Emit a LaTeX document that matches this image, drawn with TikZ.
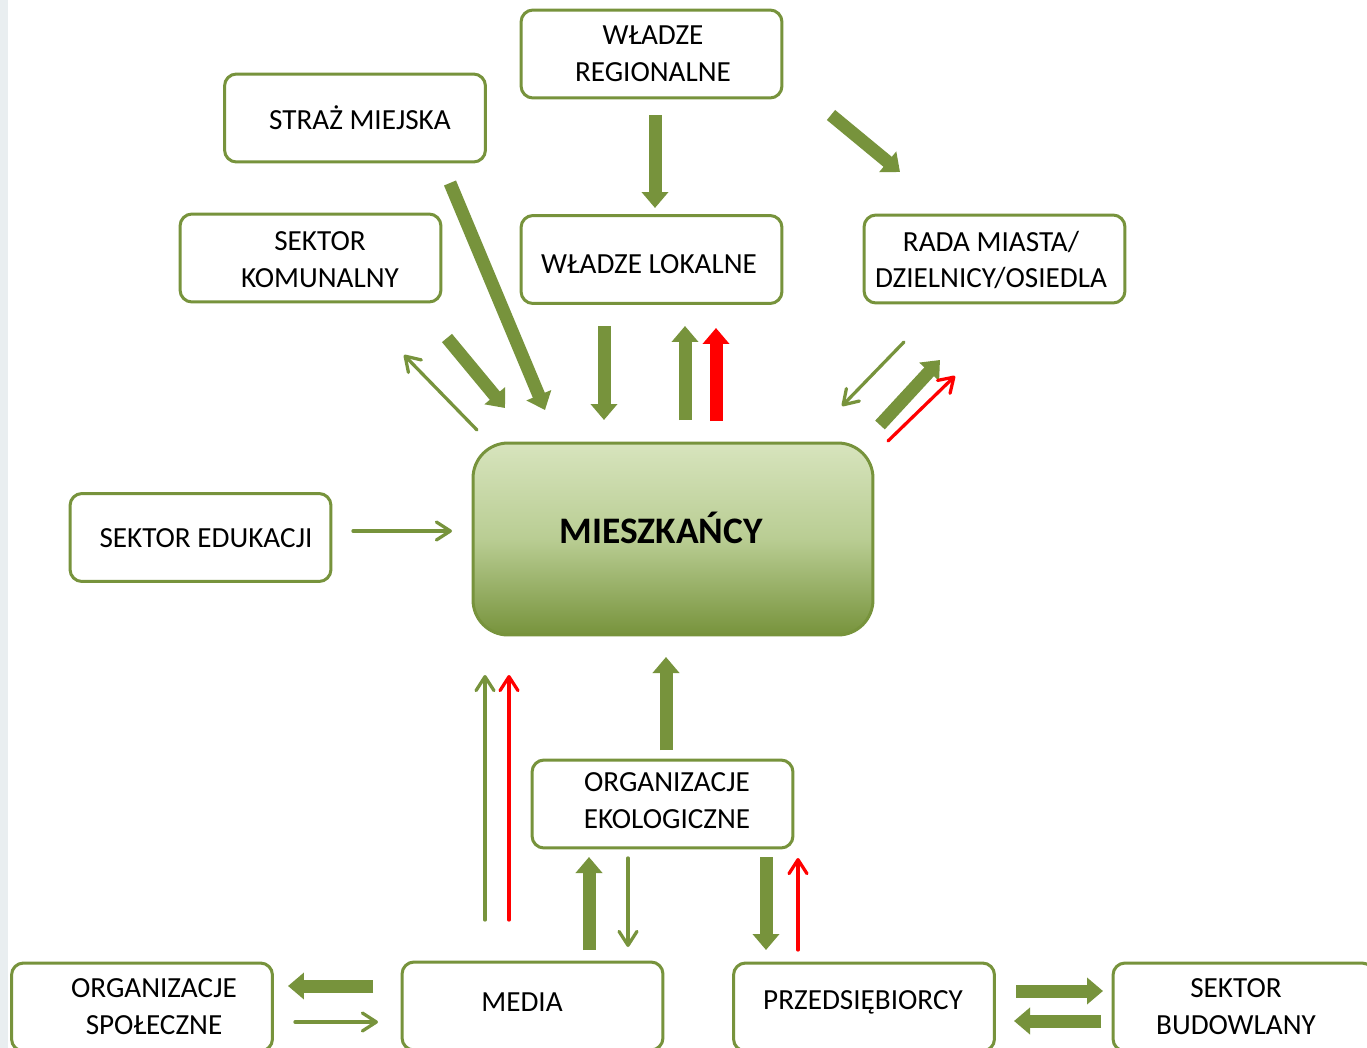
\documentclass[tikz,border=0pt]{standalone}
\usepackage{fontspec}
\setmainfont{Carlito}
\usetikzlibrary{arrows.meta}
\definecolor{grn}{HTML}{77933C}
\definecolor{lgrn}{HTML}{D7E4BD}
\definecolor{mgrn}{HTML}{B9CD93}
\definecolor{side}{HTML}{E9EEF0}
\begin{document}
\begin{tikzpicture}[x=0.02cm,y=-0.02cm,
  box/.style={draw=grn,line width=0.06cm,rounded corners=0.24cm,minimum width=5.22cm,minimum height=1.76cm,inner sep=0pt},
  lbl/.style={inner sep=0pt,align=center,font=\fontsize{16.6}{21}\selectfont},
  fat/.style={draw=grn,line width=0.26cm,-{Triangle[length=0.32cm,width=0.52cm]}},
  fatred/.style={fat,draw=red},
  thin/.style={draw=grn,line width=0.065cm,line cap=round,-{Straight Barb[length=0.28cm,width=0.36cm,round]}},
  thinred/.style={thin,draw=red}]
\useasboundingbox (0,0) rectangle (1367,1048);
\clip (0,0) rectangle (1367,1048);
\fill[white] (0,0) rectangle (1367,1048);
\fill[side] (0,0) rectangle (8,1048);

% boxes
\node[box] (wr) at (651.5,54) {};
\node[box] (straz) at (355,118) {};
\node[box] (komun) at (310.5,258) {};
\node[box] (wl) at (651.5,259.5) {};
\node[box] (rada) at (994.5,259) {};
\node[box] (edu) at (200.5,537.5) {};
\node[box] (eko) at (662.5,804) {};
\node[box] (spol) at (142,1007) {};
\node[box] (media) at (532.5,1006) {};
\node[box] (przed) at (864,1007) {};
\node[box] (bud) at (1243.5,1007) {};

% labels
\node[lbl] (wrt) at (653,54) {WŁADZE\\REGIONALNE};
\node[lbl] (strazt) at (360,118) {STRAŻ MIEJSKA};
\node[lbl] (komunt) at (320,260) {SEKTOR\\KOMUNALNY};
\node[lbl] (wlt) at (649,264) {WŁADZE LOKALNE};
\node[lbl] (radat) at (991,260) {RADA MIASTA/\\DZIELNICY/OSIEDLA};
\node[lbl] (edut) at (206,538) {SEKTOR EDUKACJI};
\node[lbl] (ekot) at (667,801) {ORGANIZACJE\\EKOLOGICZNE};
\node[lbl] (spolt) at (154,1007) {ORGANIZACJE\\SPOŁECZNE};
\node[lbl] (mediat) at (522,1002) {MEDIA};
\node[lbl] (przedt) at (863,1002) {PRZEDSIĘBIORCY};
\node[lbl] (budt) at (1236,1007) {SEKTOR\\BUDOWLANY};

% central
\node[draw=grn,line width=0.06cm,rounded corners=0.7cm,minimum width=8cm,minimum height=3.84cm,
  top color=lgrn,bottom color=grn,middle color=mgrn,shading angle=0] (miesz) at (673,539) {};
\node[font=\fontsize{21.3}{25}\selectfont\bfseries] (mieszt) at (661,528) {MIESZKAŃCY};

% arrow end points
\coordinate (a1s) at (655,115);  \coordinate (a1e) at (655,208);
\coordinate (a2s) at (831,115);  \coordinate (a2e) at (900,172);
\coordinate (a3s) at (450,183);  \coordinate (a3e) at (545,410);
\coordinate (a4s) at (447,338);  \coordinate (a4e) at (505,408);
\coordinate (a5s) at (477,430);  \coordinate (a5e) at (404,355);
\coordinate (a6s) at (604,326);  \coordinate (a6e) at (604,420);
\coordinate (a7s) at (685,420);  \coordinate (a7e) at (685,326);
\coordinate (a8s) at (716,421);  \coordinate (a8e) at (716,328);
\coordinate (a9s) at (904,342);  \coordinate (a9e) at (842,406);
\coordinate (a10s) at (880,425); \coordinate (a10e) at (940,360);
\coordinate (a11s) at (888,441); \coordinate (a11e) at (955,376);
\coordinate (a12s) at (353,531); \coordinate (a12e) at (452,531);
\coordinate (a13s) at (666,750); \coordinate (a13e) at (666,657);
\coordinate (a14s) at (485,920); \coordinate (a14e) at (485,675);
\coordinate (a15s) at (509,920); \coordinate (a15e) at (509,675);
\coordinate (a16s) at (589,950); \coordinate (a16e) at (589,857);
\coordinate (a17s) at (628,858); \coordinate (a17e) at (628,947);
\coordinate (a18s) at (766,857); \coordinate (a18e) at (766,950);
\coordinate (a19s) at (798,950); \coordinate (a19e) at (798,858);
\coordinate (a20s) at (373,986); \coordinate (a20e) at (288,986);
\coordinate (a21s) at (295,1022); \coordinate (a21e) at (378,1022);
\coordinate (a22s) at (1016,991); \coordinate (a22e) at (1103,991);
\coordinate (a23s) at (1101,1021); \coordinate (a23e) at (1014,1021);

\draw[fat] (a1s) -- (a1e);
\draw[fat] (a2s) -- (a2e);
\draw[fat] (a3s) -- (a3e);
\draw[fat] (a4s) -- (a4e);
\draw[thin] (a5s) -- (a5e);
\draw[fat] (a6s) -- (a6e);
\draw[fat] (a7s) -- (a7e);
\draw[fatred] (a8s) -- (a8e);
\draw[thin] (a9s) -- (a9e);
\draw[fat] (a10s) -- (a10e);
\draw[thinred] (a11s) -- (a11e);
\draw[thin] (a12s) -- (a12e);
\draw[fat] (a13s) -- (a13e);
\draw[thin] (a14s) -- (a14e);
\draw[thinred] (a15s) -- (a15e);
\draw[fat] (a16s) -- (a16e);
\draw[thin] (a17s) -- (a17e);
\draw[fat] (a18s) -- (a18e);
\draw[thinred] (a19s) -- (a19e);
\draw[fat] (a20s) -- (a20e);
\draw[thin] (a21s) -- (a21e);
\draw[fat] (a22s) -- (a22e);
\draw[fat] (a23s) -- (a23e);
\end{tikzpicture}
\end{document}
